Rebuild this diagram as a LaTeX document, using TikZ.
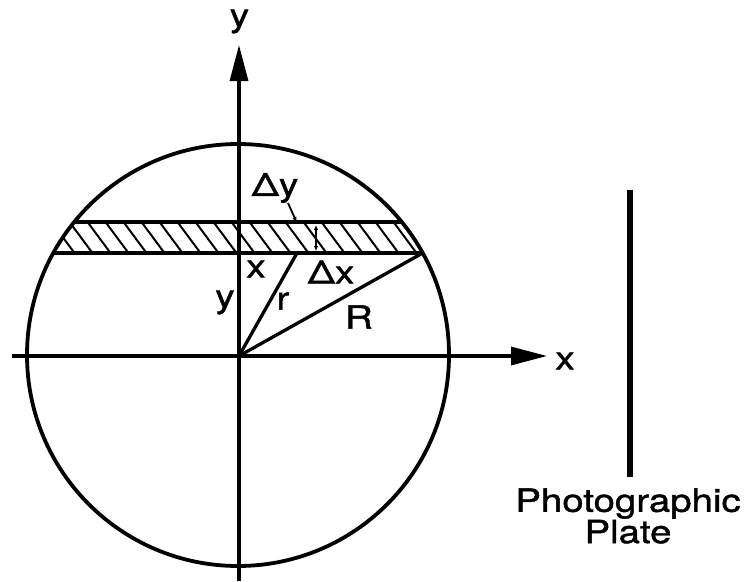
\documentclass[tikz,border=0pt]{standalone}
\usepackage{fontspec}
\setmainfont{TeX Gyre Heros}[FakeStretch=1.2,FakeBold=1.3]
\usetikzlibrary{arrows.meta}
\begin{document}
\begin{tikzpicture}[x=1pt,y=-1pt,
  lbl/.style={inner sep=0pt, font=\fontsize{32}{29}\selectfont},
  axisline/.style={line width=3.3pt, -{Triangle[length=36pt,width=18pt]}},
  thickline/.style={line width=3.8pt},
  hatchline/.style={line width=2pt},
  smallarrow/.style={line width=1.8pt}]
\useasboundingbox (0,0) rectangle (751,581);
\coordinate (C) at (238,355);
\coordinate (O) at (239,356);
\coordinate (TL) at (74.2,222);
\coordinate (TR) at (401.8,222);
\coordinate (BL) at (53.3,253);
\coordinate (BR) at (422.7,253);
\coordinate (rEnd) at (297,253);
\coordinate (xStart) at (12,356);
\coordinate (xEnd) at (547,356);
\coordinate (yStart) at (239,581);
\coordinate (yEnd) at (239,45);
\coordinate (PlateTop) at (630,190);
\coordinate (PlateBot) at (630,477);
% hatching
\begin{scope}
  \clip (C) circle[radius=211pt];
  \clip (0,222) rectangle (751,253);
  \foreach \k in {-12,...,10}
    \draw[hatchline] ({248+18*\k},220) -- ({274+18*\k},255);
\end{scope}
% circle
\draw[thickline] (C) circle[radius=211pt];
% stripe lines
\draw[thickline] (TL) -- (TR);
\draw[thickline] (BL) -- (BR);
% axes
\draw[axisline] (xStart) -- (xEnd);
\draw[axisline] (yStart) -- (yEnd);
% radii
\draw[line width=3.3pt] (O) -- (rEnd);
\draw[line width=3.3pt] (O) -- (BR);
% delta y leader and marker
\coordinate (dyA) at (288,203);
\coordinate (dyB) at (297,223);
\draw[smallarrow, -{Latex[length=6pt,width=4.5pt]}] (dyA) -- (dyB);
\coordinate (mA) at (316,225);
\coordinate (mB) at (316,251);
\draw[line width=1.8pt, {Latex[length=5pt,width=4.5pt]}-{Latex[length=5pt,width=4.5pt]}] (mA) -- (mB);
% plate
\draw[line width=6pt] (PlateTop) -- (PlateBot);
% labels
\node[lbl] (ly) at (239.5,21.5) {y};
\node[lbl] (lx) at (565,361) {x};
\node[lbl] (ldy) at (275,188) {Δy};
\node[lbl] (lsx) at (256,269) {x};
\node[lbl] (ldx) at (331,272) {Δx};
\node[lbl] (lsy) at (225,302.5) {y};
\node[lbl] (lr) at (283,301) {r};
\node[lbl] (lR) at (359,317) {R};
\node[lbl, align=center] (lplate) at (628,516) {Photographic\\Plate};
\end{tikzpicture}
\end{document}
